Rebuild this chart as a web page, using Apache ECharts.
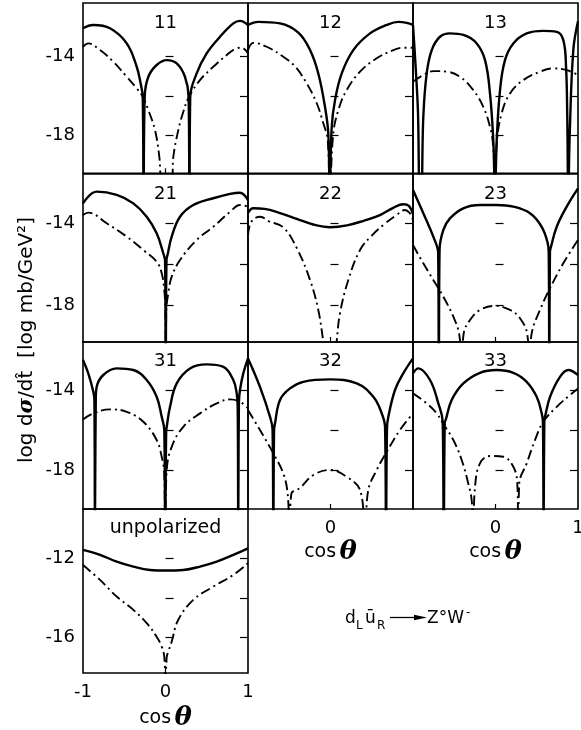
<!DOCTYPE html>
<html>
<head>
<meta charset="utf-8">
<script src="https://cdn.jsdelivr.net/npm/echarts@6/dist/echarts.min.js"></script>
<style>
html,body{margin:0;padding:0;background:#fff;}
#chart{width:581px;height:730px;}
</style>
</head>
<body>
<div id="chart"></div>
<script>
// ---------- data (cos theta, log dsigma/dt) ----------
const panelNames = ['11','12','13','21','22','23','31','32','33','unpolarized'];
const yTickValues = [-14, -16, -18];
const yTickLabels = [-14, -18];
const unpolTickValues = [-12, -14, -16];
const unpolTickLabels = [-12, -16];
const xTickValues = [0];
const xLabelsMid = [0];
const xLabelsRight = [0, 1];
const xLabelsUnpol = [-1, 0, 1];

const p11Solid = [[-1,-12.56],[-0.876,-12.39],[-0.673,-12.56],[-0.47,-13.33],[-0.349,-14.52],[-0.3,-15.4],[-0.276,-16.05],[-0.266,-21],[-0.252,-16.05],[-0.208,-15.03],[-0.107,-14.43],[0.015,-14.18],[0.136,-14.35],[0.236,-15.03],[0.28,-16.05],[0.29,-21],[0.3,-16.05],[0.378,-14.86],[0.499,-13.84],[0.661,-12.99],[0.822,-12.31],[0.903,-12.18],[1,-12.39]];
const p11Dash = [[-1,-13.5],[-0.936,-13.33],[-0.794,-13.67],[-0.633,-14.26],[-0.47,-15.03],[-0.349,-15.62],[-0.276,-16.05],[-0.208,-16.73],[-0.127,-17.75],[-0.075,-19.11],[-0.055,-20.2],[0.01,-21.5],[0.08,-20.2],[0.095,-19.11],[0.155,-17.75],[0.216,-16.81],[0.285,-16.05],[0.418,-15.2],[0.579,-14.52],[0.742,-13.92],[0.863,-13.58],[0.924,-13.55],[1,-13.84]];

const p12Solid = [[-1,-12.39],[-0.875,-12.23],[-0.612,-12.31],[-0.39,-12.78],[-0.248,-13.67],[-0.148,-14.86],[-0.067,-16.56],[-0.027,-17.91],[-0.01,-21],[0.015,-17.58],[0.055,-16.22],[0.136,-14.86],[0.276,-13.67],[0.479,-12.82],[0.681,-12.39],[0.822,-12.23],[0.924,-12.28],[1,-12.39]];
const p12Dash = [[-1,-13.67],[-0.936,-13.3],[-0.773,-13.5],[-0.572,-14.01],[-0.43,-14.5],[-0.288,-15.37],[-0.167,-16.38],[-0.087,-17.4],[-0.034,-18.25],[-0.01,-21],[0.034,-17.91],[0.095,-16.73],[0.196,-15.71],[0.358,-14.77],[0.56,-14.09],[0.761,-13.67],[0.882,-13.55],[1,-13.55]];

const p13Solid = [[-1,-12.39],[-0.97,-14.4],[-0.94,-16.8],[-0.918,-21],[-0.9,-21],[-0.875,-17.07],[-0.834,-14.86],[-0.773,-13.67],[-0.673,-12.99],[-0.552,-12.82],[-0.39,-12.9],[-0.228,-13.33],[-0.127,-14.18],[-0.067,-15.88],[-0.027,-18.25],[-0.006,-21],[0.015,-18.25],[0.055,-15.71],[0.115,-14.18],[0.216,-13.33],[0.378,-12.82],[0.579,-12.69],[0.742,-12.74],[0.822,-13.16],[0.855,-14.52],[0.87,-17.07],[0.882,-21],[0.9,-17.9],[0.943,-13.67],[1,-12.2]];
const p13Dash = [[-1,-15.28],[-0.875,-14.94],[-0.754,-14.74],[-0.592,-14.77],[-0.43,-15.03],[-0.269,-15.71],[-0.148,-16.56],[-0.067,-17.58],[-0.027,-18.6],[-0.006,-21],[0.015,-18.42],[0.075,-16.89],[0.176,-15.88],[0.337,-15.2],[0.539,-14.77],[0.701,-14.6],[0.863,-14.69],[1,-14.94]];

const p21Solid = [[-1,-13.03],[-0.834,-12.46],[-0.592,-12.62],[-0.39,-13.03],[-0.228,-13.68],[-0.107,-14.49],[-0.027,-15.46],[-0.005,-15.85],[0.003,-21],[0.012,-15.8],[0.027,-15.5],[0.075,-14.65],[0.176,-13.68],[0.337,-13.11],[0.579,-12.78],[0.782,-12.57],[0.903,-12.51],[1,-12.87]];
const p21Dash = [[-1,-13.6],[-0.936,-13.48],[-0.713,-14],[-0.47,-14.65],[-0.269,-15.3],[-0.107,-15.87],[-0.046,-16.43],[-0.015,-17.25],[-0.002,-18.22],[0.003,-21],[0.01,-18.2],[0.034,-17.41],[0.075,-16.6],[0.176,-15.79],[0.378,-14.81],[0.579,-14.17],[0.782,-13.44],[0.903,-13.11],[1,-13.19]];

const p22Solid = [[-1,-13.5],[-0.936,-13.27],[-0.8,-13.3],[-0.612,-13.5],[-0.4,-13.8],[-0.2,-14.07],[0,-14.19],[0.2,-14.1],[0.4,-13.88],[0.6,-13.6],[0.76,-13.25],[0.882,-13.07],[0.95,-13.15],[1,-13.55]];
const p22Dash = [[-1,-14.6],[-0.97,-14.0],[-0.9,-13.72],[-0.85,-13.68],[-0.75,-13.9],[-0.572,-14.2],[-0.41,-15.2],[-0.248,-16.76],[-0.148,-18.22],[-0.087,-19.76],[-0.06,-20.5],[0,-22],[0.06,-20.5],[0.075,-19.76],[0.115,-18.38],[0.216,-16.76],[0.358,-15.3],[0.5,-14.6],[0.65,-14.05],[0.8,-13.6],[0.9,-13.35],[0.96,-13.5],[1,-13.84]];

const p23Solid = [[-1,-12.38],[-0.875,-13.51],[-0.754,-14.65],[-0.695,-15.46],[-0.687,-21],[-0.678,-15.3],[-0.633,-14.33],[-0.552,-13.76],[-0.39,-13.27],[-0.188,-13.11],[0.015,-13.11],[0.216,-13.19],[0.418,-13.51],[0.56,-14.17],[0.633,-14.97],[0.645,-15.46],[0.652,-21],[0.66,-15.4],[0.669,-15.2],[0.742,-14.17],[0.863,-13.19],[1,-12.3]];
const p23Dash = [[-1,-15.06],[-0.875,-15.95],[-0.754,-16.76],[-0.633,-17.57],[-0.511,-18.55],[-0.44,-19.4],[-0.41,-21],[-0.385,-19.35],[-0.309,-18.71],[-0.188,-18.22],[-0.006,-18.02],[0.176,-18.22],[0.297,-18.62],[0.385,-19.4],[0.41,-21],[0.439,-19.35],[0.539,-18.22],[0.661,-17.16],[0.822,-15.95],[1,-14.81]];

const p31Solid = [[-1,-12.5],[-0.936,-13.17],[-0.875,-14.09],[-0.862,-14.5],[-0.855,-21],[-0.845,-14.4],[-0.834,-13.84],[-0.754,-13.25],[-0.592,-12.92],[-0.39,-13],[-0.228,-13.5],[-0.107,-14.34],[-0.046,-15.34],[-0.015,-16],[-0.004,-21],[0.008,-16.1],[0.015,-15.84],[0.055,-14.84],[0.136,-13.67],[0.297,-12.92],[0.499,-12.72],[0.701,-12.84],[0.822,-13.5],[0.863,-14.17],[0.875,-14.84],[0.882,-21],[0.89,-14.6],[0.903,-14],[0.943,-13.17],[1,-12.42]];
const p31Dash = [[-1,-15.47],[-0.875,-15.17],[-0.673,-14.97],[-0.47,-15.09],[-0.269,-15.59],[-0.107,-16.5],[-0.046,-17.34],[-0.015,-18.17],[-0.004,-21],[0.015,-18],[0.075,-16.84],[0.216,-15.84],[0.418,-15.17],[0.621,-14.67],[0.782,-14.47],[0.903,-14.59],[1,-14.92]];

const p32Solid = [[-1,-12.42],[-0.855,-13.84],[-0.733,-15.34],[-0.702,-16],[-0.693,-21],[-0.684,-16],[-0.673,-15.67],[-0.612,-14.5],[-0.491,-13.92],[-0.33,-13.59],[-0.006,-13.47],[0.318,-13.67],[0.519,-14.34],[0.621,-15.17],[0.661,-15.84],[0.673,-21],[0.685,-15.9],[0.701,-15.34],[0.782,-14],[0.882,-13.17],[1,-12.42]];
const p32Dash = [[-1,-15],[-0.855,-16],[-0.693,-17.17],[-0.572,-18.17],[-0.52,-19.17],[-0.497,-21],[-0.475,-19.2],[-0.37,-18.9],[-0.208,-18.25],[-0.006,-18],[0.196,-18.34],[0.358,-19],[0.418,-21],[0.458,-19],[0.56,-18],[0.681,-17.09],[0.842,-16],[1,-15.17]];

const p33Solid = [[-1,-13.17],[-0.936,-12.92],[-0.794,-13.5],[-0.693,-14.67],[-0.64,-15.59],[-0.628,-21],[-0.615,-15.6],[-0.604,-15.5],[-0.531,-14.5],[-0.39,-13.67],[-0.188,-13.14],[0.015,-13],[0.216,-13.14],[0.378,-13.59],[0.499,-14.34],[0.56,-15.17],[0.575,-15.6],[0.583,-21],[0.592,-15.5],[0.6,-15.34],[0.661,-14.34],[0.782,-13.34],[0.882,-13],[1,-13.25]];
const p33Dash = [[-1,-14.17],[-0.834,-14.67],[-0.713,-15.17],[-0.624,-15.75],[-0.511,-16.5],[-0.41,-17.5],[-0.33,-18.67],[-0.289,-19.5],[-0.27,-21],[-0.248,-18.84],[-0.188,-17.67],[-0.067,-17.3],[0.095,-17.34],[0.216,-17.84],[0.264,-18.67],[0.276,-21],[0.288,-18.67],[0.378,-17.67],[0.479,-16.5],[0.579,-15.59],[0.742,-14.84],[0.903,-14.25],[1,-13.92]];

const unpolSolid = [[-1,-11.58],[-0.794,-11.83],[-0.592,-12.17],[-0.39,-12.42],[-0.188,-12.59],[0,-12.62],[0.216,-12.59],[0.418,-12.42],[0.621,-12.17],[0.822,-11.83],[1,-11.5]];
const unpolDash = [[-1,-12.34],[-0.794,-13.09],[-0.592,-13.93],[-0.39,-14.6],[-0.228,-15.27],[-0.107,-15.95],[-0.046,-16.45],[-0.015,-16.96],[0,-18.5],[0.015,-16.96],[0.034,-16.7],[0.075,-16.2],[0.155,-15.1],[0.337,-14.1],[0.579,-13.43],[0.822,-12.84],[1,-12.25]];

// ---------- layout ----------
const colLeft = [83, 248, 413];
const colWidth = 165;
const rowBox = [
  {top: 3, height: 170.3, min: -19.95, max: -11.27},
  {top: 174, height: 168, min: -19.78, max: -11.6},
  {top: 342, height: 167, min: -19.95, max: -11.6},
  {top: 509, height: 164, min: -17.78, max: -9.52}
];
const panelLabelY = [23.5, 194, 361.5, 528];

const solids = [p11Solid,p12Solid,p13Solid,p21Solid,p22Solid,p23Solid,p31Solid,p32Solid,p33Solid,unpolSolid];
const dashes = [p11Dash,p12Dash,p13Dash,p21Dash,p22Dash,p23Dash,p31Dash,p32Dash,p33Dash,unpolDash];

const FONT = 'DejaVu Sans';
const cosName = '{c|cos} {t|θ}';
const cosRich = {
  c: {fontSize: 19, fontFamily: FONT, color: '#000'},
  t: {fontSize: 26, fontFamily: 'DejaVu Serif', fontStyle: 'italic', fontWeight: 'bold', color: '#000'}
};

const grids = [], xAxes = [], yAxes = [], series = [], graphics = [];

panelNames.forEach((name, i) => {
  const r = i < 9 ? Math.floor(i / 3) : 3;
  const c = i < 9 ? i % 3 : 0;
  const box = rowBox[r];
  grids.push({left: colLeft[c], top: box.top, width: colWidth, height: box.height,
    show: true, borderColor: '#000', borderWidth: 1.6, backgroundColor: 'transparent',
    containLabel: false, outerBoundsMode: 'none'});

  let xLabels = null, withName = false;
  if (i === 7) { xLabels = xLabelsMid; withName = true; }
  if (i === 8) { xLabels = xLabelsRight; withName = true; }
  if (i === 9) { xLabels = xLabelsUnpol; withName = true; }

  xAxes.push({
    gridIndex: i, type: 'value', min: -1, max: 1,
    axisLine: {show: false}, splitLine: {show: false},
    axisTick: {show: true, inside: true, length: 5, customValues: xTickValues, lineStyle: {color: '#000', width: 1.2}},
    axisLabel: {show: !!xLabels, customValues: xLabels || [], fontSize: 18, fontFamily: FONT, color: '#000', margin: 10},
    name: withName ? cosName : '', nameLocation: 'middle', nameGap: i === 9 ? 32 : 30,
    nameTextStyle: {rich: cosRich}
  });

  const ticks = i === 9 ? unpolTickValues : yTickValues;
  const labs = i === 9 ? unpolTickLabels : yTickLabels;
  ['left', 'right'].forEach(pos => {
    yAxes.push({
      gridIndex: i, type: 'value', min: box.min, max: box.max, position: pos,
      axisLine: {show: false}, splitLine: {show: false},
      axisTick: {show: true, inside: true, length: 8, customValues: ticks, lineStyle: {color: '#000', width: 1.2}},
      axisLabel: {show: pos === 'left' && c === 0, customValues: labs, fontSize: 18, fontFamily: FONT, color: '#000', margin: 8}
    });
  });

  series.push({
    type: 'line', xAxisIndex: i, yAxisIndex: 2 * i, data: solids[i],
    showSymbol: false, symbol: 'none', smooth: 0.4, clip: true, silent: true,
    lineStyle: {color: '#000', width: 2.4}, z: 3
  });
  series.push({
    type: 'line', xAxisIndex: i, yAxisIndex: 2 * i, data: dashes[i],
    showSymbol: false, symbol: 'none', smooth: 0.4, clip: true, silent: true,
    lineStyle: {color: '#000', width: 1.9, type: [10, 4, 2, 4]}, z: 3
  });

  graphics.push({
    type: 'text', x: colLeft[c] + colWidth / 2, y: panelLabelY[r],
    style: {text: name, fill: '#000', font: (i === 9 ? '19px ' : '18px ') + '"DejaVu Sans"', align: 'center', verticalAlign: 'middle'}
  });
});

// y-axis title
graphics.push({
  type: 'text', x: 27, y: 340, rotation: Math.PI / 2,
  style: {
    text: '{n|log d}{g|σ}{n|/dt̂  [log mb/GeV²]}',
    align: 'center', verticalAlign: 'middle',
    rich: {
      n: {fontSize: 20, fontFamily: FONT, fill: '#000'},
      g: {fontSize: 21, fontFamily: 'DejaVu Serif', fontStyle: 'italic', fontWeight: 'bold', fill: '#000'}
    }
  }
});

// reaction label
const rx = 345, ry = 618.3;
graphics.push({type: 'text', x: rx, y: ry, style: {text: 'd', font: '17px "DejaVu Sans"', fill: '#000', align: 'left', verticalAlign: 'middle'}});
graphics.push({type: 'text', x: rx + 11, y: ry + 8, style: {text: 'L', font: '12px "DejaVu Sans"', fill: '#000', align: 'left', verticalAlign: 'middle'}});
graphics.push({type: 'text', x: rx + 20, y: ry, style: {text: 'ū', font: '17px "DejaVu Sans"', fill: '#000', align: 'left', verticalAlign: 'middle'}});
graphics.push({type: 'text', x: rx + 32, y: ry + 8, style: {text: 'R', font: '12px "DejaVu Sans"', fill: '#000', align: 'left', verticalAlign: 'middle'}});
graphics.push({type: 'line', shape: {x1: 390, y1: 617.5, x2: 418, y2: 617.5}, style: {stroke: '#000', lineWidth: 1.3}});
graphics.push({type: 'polygon', shape: {points: [[414, 614.8], [427, 617.5], [414, 620.2]]}, style: {fill: '#000'}});
graphics.push({type: 'text', x: 427, y: ry, style: {text: 'Z°W', font: '17px "DejaVu Sans"', fill: '#000', align: 'left', verticalAlign: 'middle'}});
graphics.push({type: 'text', x: 466, y: ry - 5, style: {text: '-', font: '12px "DejaVu Sans"', fill: '#000', align: 'left', verticalAlign: 'middle'}});

const chart = echarts.init(document.getElementById('chart'), null, {renderer: 'canvas'});
chart.setOption({
  backgroundColor: '#fff',
  animation: false,
  grid: grids,
  xAxis: xAxes,
  yAxis: yAxes,
  series: series,
  graphic: graphics
});
</script>
</body>
</html>
